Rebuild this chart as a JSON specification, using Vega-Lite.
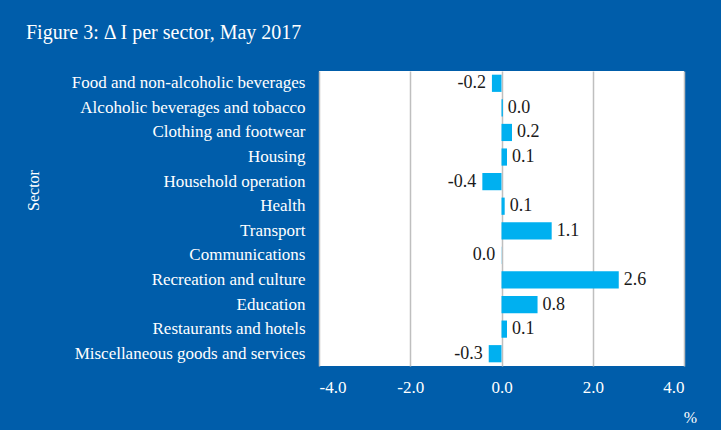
{
  "$schema": "https://vega.github.io/schema/vega-lite/v6.json",
  "width": 365,
  "height": 295,
  "autosize": {"type": "none"},
  "padding": {"left": 319, "top": 71, "right": 37, "bottom": 64},
  "background": "#005DAA",
  "title": {
    "text": "Figure 3: Δ I per sector, May 2017",
    "anchor": "start",
    "frame": "group",
    "dx": -293,
    "offset": 12,
    "baseline": "alphabetic",
    "font": "Liberation Serif",
    "fontSize": 20,
    "fontWeight": "normal",
    "color": "white"
  },
  "data": {
    "values": [
      {"sector": "Food and non-alcoholic beverages", "value": -0.21, "label": "-0.2"},
      {"sector": "Alcoholic beverages and tobacco", "value": 0.03, "label": "0.0"},
      {"sector": "Clothing and footwear", "value": 0.23, "label": "0.2"},
      {"sector": "Housing", "value": 0.12, "label": "0.1"},
      {"sector": "Household operation", "value": -0.42, "label": "-0.4"},
      {"sector": "Health", "value": 0.07, "label": "0.1"},
      {"sector": "Transport", "value": 1.1, "label": "1.1"},
      {"sector": "Communications", "value": -0.004, "label": "0.0"},
      {"sector": "Recreation and culture", "value": 2.57, "label": "2.6"},
      {"sector": "Education", "value": 0.79, "label": "0.8"},
      {"sector": "Restaurants and hotels", "value": 0.12, "label": "0.1"},
      {"sector": "Miscellaneous goods and services", "value": -0.28, "label": "-0.3"}
    ]
  },
  "encoding": {
    "y": {
      "field": "sector",
      "type": "nominal",
      "sort": null,
      "scale": {"paddingInner": 0.3, "paddingOuter": 0.15},
      "axis": {
        "title": "Sector",
        "titleFont": "Liberation Serif",
        "titleFontSize": 16,
        "titleFontWeight": "normal",
        "titleColor": "white",
        "titleAngle": -90,
        "titleAlign": "center",
        "titleBaseline": "middle",
        "titleX": -286,
        "titleY": 119,
        "labelFont": "Liberation Serif",
        "labelFontSize": 17,
        "labelColor": "white",
        "labelPadding": 14,
        "labelLimit": 400,
        "ticks": false,
        "domain": false,
        "grid": false
      }
    },
    "x": {
      "field": "value",
      "type": "quantitative",
      "scale": {"domain": [-4, 4], "nice": false, "zero": false},
      "axis": {
        "values": [-4, -2, 0, 2, 4],
        "labelExpr": "datum.value < 0 ? '-' + format(-datum.value, '.1f') : format(datum.value, '.1f')",
        "title": "%",
        "titleFont": "Liberation Serif",
        "titleFontSize": 16,
        "titleFontWeight": "normal",
        "titleColor": "white",
        "titleAlign": "center",
        "titleBaseline": "middle",
        "titleX": 371,
        "titleY": 51,
        "labelFont": "Liberation Serif",
        "labelFontSize": 17,
        "labelColor": "white",
        "labelPadding": 13,
        "ticks": false,
        "domain": false,
        "grid": true,
        "gridColor": "#BFBFBF",
        "gridWidth": 1.5
      }
    }
  },
  "layer": [
    {"mark": {"type": "bar", "color": "#00B0F0"}},
    {
      "transform": [{"filter": "datum.value >= 0"}],
      "mark": {"type": "text", "align": "left", "baseline": "middle", "dx": 5, "font": "Liberation Serif", "fontSize": 18, "color": "#1a1a1a"},
      "encoding": {"text": {"field": "label"}}
    },
    {
      "transform": [{"filter": "datum.value < 0"}],
      "mark": {"type": "text", "align": "right", "baseline": "middle", "dx": -6, "font": "Liberation Serif", "fontSize": 18, "color": "#1a1a1a"},
      "encoding": {"text": {"field": "label"}}
    }
  ],
  "config": {
    "view": {"fill": "white", "stroke": null}
  }
}
